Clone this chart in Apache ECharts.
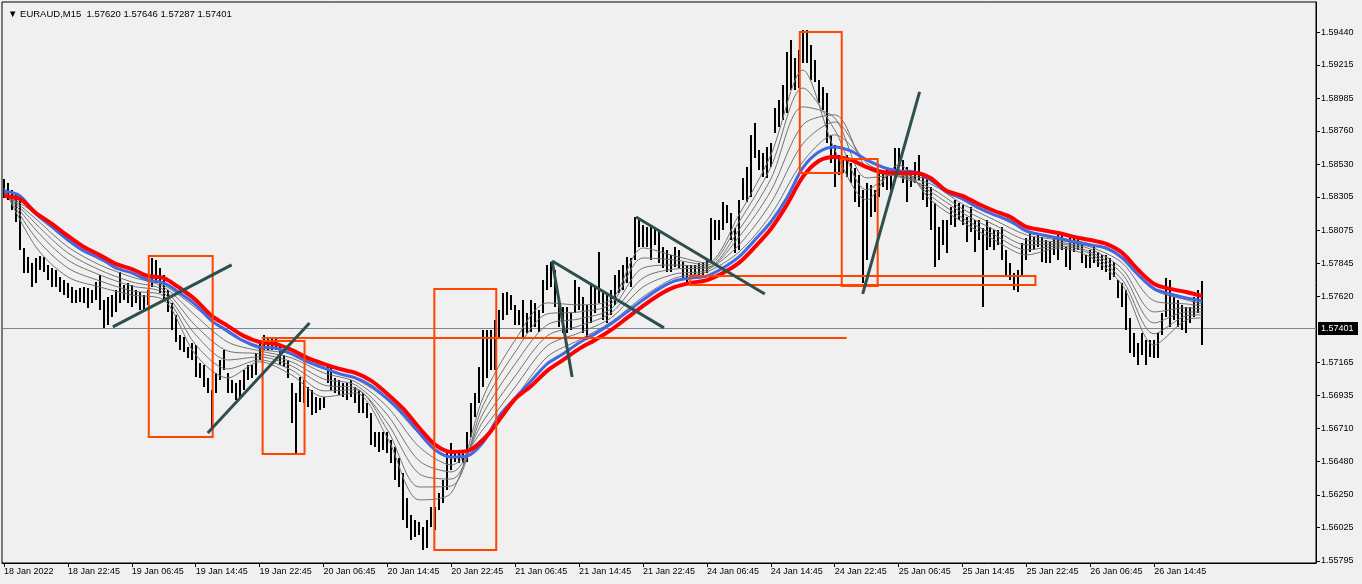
<!DOCTYPE html>
<html><head><meta charset="utf-8">
<script src="https://cdn.jsdelivr.net/npm/echarts@6/dist/echarts.min.js"></script>
<style>html,body{margin:0;padding:0;background:#f0f0f0}#c{width:1362px;height:584px}</style>
</head><body><div id="c"></div>
<script>
const symbolName = 'EURAUD,M15';
const lastOHLC = [1.57620, 1.57646, 1.57287, 1.57401];
const timeLabels = ['18 Jan 2022','18 Jan 22:45','19 Jan 06:45','19 Jan 14:45','19 Jan 22:45','20 Jan 06:45','20 Jan 14:45','20 Jan 22:45','21 Jan 06:45','21 Jan 14:45','21 Jan 22:45','24 Jan 06:45','24 Jan 14:45','24 Jan 22:45','25 Jan 06:45','25 Jan 14:45','25 Jan 22:45','26 Jan 06:45','26 Jan 14:45'];
const priceTicks = [1.59440,1.59215,1.58985,1.58760,1.58530,1.58305,1.58075,1.57845,1.57620,1.57165,1.56935,1.56710,1.56480,1.56250,1.56025,1.55795];

// bar highs / lows (30-minute steps)
const highs = [1.58429,1.58402,1.58354,1.58319,1.58284,1.57953,1.57891,1.57850,1.57884,1.57898,
1.57891,1.57836,1.57815,1.57801,1.57753,1.57732,1.57712,1.57684,1.57664,1.57677,
1.57684,1.57677,1.57664,1.57719,1.57767,1.57595,1.57616,1.57629,1.57664,1.57788,
1.57698,1.57712,1.57698,1.57664,1.57650,1.57629,1.57664,1.57884,1.57870,1.57815,
1.57767,1.57664,1.57574,1.57492,1.57354,1.57340,1.57271,1.57299,1.57285,1.57161,
1.57147,1.57057,1.56975,1.57092,1.57181,1.57250,1.57092,1.57043,1.57023,1.57043,
1.57112,1.57147,1.57147,1.57230,1.57299,1.57354,1.57333,1.57333,1.57333,1.57271,
1.57216,1.57181,1.57023,1.56954,1.57064,1.57043,1.56995,1.56975,1.56926,1.56919,
1.56926,1.57147,1.57126,1.57057,1.57043,1.57023,1.57023,1.57043,1.56995,1.56975,
1.56954,1.56884,1.56815,1.56684,1.56684,1.56684,1.56684,1.56629,1.56581,1.56505,
1.56402,1.56229,1.56113,1.56078,1.56064,1.56030,1.56078,1.56168,1.56168,1.56264,
1.56353,1.56540,1.56609,1.56560,1.56547,1.56560,1.56684,1.56884,1.56954,1.57133,
1.57388,1.57388,1.57388,1.57457,1.57526,1.57643,1.57650,1.57629,1.57561,1.57526,
1.57595,1.57505,1.57595,1.57574,1.57526,1.57732,1.57836,1.57857,1.57801,1.57595,
1.57547,1.57547,1.57505,1.57732,1.57684,1.57616,1.57561,1.57712,1.57684,1.57925,
1.57643,1.57643,1.57664,1.57767,1.57801,1.57836,1.57891,1.57884,1.58167,1.58146,
1.58112,1.58098,1.58098,1.58091,1.58063,1.57960,1.57939,1.57905,1.57960,1.57939,
1.57857,1.57836,1.57836,1.57836,1.57850,1.57857,1.57884,1.58160,1.58146,1.58146,
1.58270,1.58250,1.58194,1.58091,1.58284,1.58436,1.58511,1.58731,1.58815,1.58629,
1.58608,1.58650,1.58678,1.58919,1.58974,1.59077,1.59305,1.59387,1.59263,1.59318,
1.59456,1.59456,1.59353,1.59249,1.59111,1.59063,1.59022,1.58731,1.58663,1.58594,
1.58560,1.58594,1.58539,1.58505,1.58456,1.58354,1.58402,1.58388,1.58354,1.58491,
1.58491,1.58491,1.58456,1.58643,1.58643,1.58560,1.58511,1.58491,1.58547,1.58594,
1.58456,1.58443,1.58374,1.58263,1.58098,1.58146,1.58146,1.58236,1.58284,1.58263,
1.58250,1.58167,1.58236,1.58146,1.58146,1.58091,1.58146,1.58098,1.58077,1.58077,
1.58098,1.57939,1.57850,1.57781,1.57801,1.57987,1.58022,1.58056,1.58029,1.58043,
1.58029,1.58008,1.57994,1.58029,1.58043,1.58063,1.57960,1.58022,1.58043,1.58022,
1.57994,1.57905,1.57939,1.57960,1.57925,1.57905,1.57905,1.57884,1.57857,1.57732,
1.57712,1.57664,1.57471,1.57368,1.57299,1.57368,1.57319,1.57319,1.57319,1.57368,
1.57505,1.57746,1.57732,1.57616,1.57595,1.57561,1.57547,1.57547,1.57616,1.57664,
1.57726];
const lows = [1.58298,1.58284,1.58215,1.58132,1.57939,1.57781,1.57781,1.57684,1.57712,1.57801,
1.57788,1.57732,1.57684,1.57684,1.57650,1.57629,1.57608,1.57574,1.57574,1.57581,
1.57574,1.57540,1.57574,1.57595,1.57526,1.57402,1.57423,1.57478,1.57512,1.57574,
1.57595,1.57574,1.57547,1.57574,1.57526,1.57526,1.57561,1.57684,1.57712,1.57643,
1.57595,1.57512,1.57388,1.57305,1.57250,1.57236,1.57195,1.57181,1.57064,1.57057,
1.56995,1.56954,1.56712,1.56954,1.57043,1.57112,1.56954,1.56954,1.56905,1.56926,
1.56975,1.57043,1.57057,1.57078,1.57181,1.57250,1.57250,1.57250,1.57250,1.57147,
1.57133,1.57057,1.56746,1.56540,1.56891,1.56884,1.56857,1.56802,1.56815,1.56836,
1.56850,1.57023,1.56975,1.56954,1.56940,1.56926,1.56905,1.56926,1.56884,1.56815,
1.56815,1.56781,1.56595,1.56581,1.56547,1.56560,1.56540,1.56471,1.56353,1.56305,
1.56078,1.56023,1.55940,1.55961,1.55975,1.55871,1.55885,1.56030,1.56009,1.56147,
1.56194,1.56285,1.56422,1.56478,1.56471,1.56471,1.56478,1.56650,1.56788,1.56884,
1.56995,1.57057,1.57112,1.57112,1.57333,1.57457,1.57492,1.57526,1.57423,1.57423,
1.57340,1.57368,1.57374,1.57409,1.57374,1.57505,1.57664,1.57684,1.57547,1.57409,
1.57368,1.57368,1.57388,1.57505,1.57526,1.57368,1.57319,1.57436,1.57505,1.57574,
1.57457,1.57436,1.57492,1.57561,1.57643,1.57664,1.57712,1.57684,1.57870,1.57960,
1.57960,1.57960,1.57870,1.57974,1.57850,1.57815,1.57788,1.57788,1.57822,1.57815,
1.57732,1.57712,1.57746,1.57746,1.57753,1.57767,1.57781,1.57850,1.58008,1.58008,
1.58077,1.58125,1.58008,1.57919,1.57939,1.58284,1.58270,1.58305,1.58574,1.58491,
1.58443,1.58436,1.58511,1.58747,1.58788,1.58836,1.58884,1.59043,1.59043,1.59056,
1.59229,1.59229,1.59111,1.59098,1.58953,1.58905,1.58678,1.58539,1.58374,1.58457,
1.58471,1.58443,1.58402,1.58270,1.58236,1.57712,1.57870,1.58167,1.58201,1.58305,
1.58374,1.58354,1.58354,1.58456,1.58539,1.58402,1.58270,1.58374,1.58402,1.58422,
1.58284,1.58236,1.58077,1.57822,1.57870,1.57974,1.57919,1.58112,1.58098,1.58146,
1.58112,1.57994,1.58063,1.57925,1.58008,1.57547,1.57939,1.57960,1.57939,1.57974,
1.57870,1.57767,1.57732,1.57664,1.57650,1.57753,1.57870,1.57925,1.57939,1.57960,
1.57857,1.57850,1.57850,1.57905,1.57870,1.57939,1.57822,1.57801,1.57925,1.57939,
1.57850,1.57815,1.57815,1.57850,1.57822,1.57801,1.57788,1.57732,1.57753,1.57608,
1.57547,1.57388,1.57230,1.57202,1.57147,1.57216,1.57147,1.57202,1.57195,1.57195,
1.57354,1.57478,1.57409,1.57457,1.57409,1.57388,1.57368,1.57436,1.57478,1.57505,
1.57287];

// moving averages, read every 4th bar
const redMA = [1.58312,1.58291,1.58194,1.58119,1.58036,1.57960,1.57905,1.57843,1.57808,1.57760,
1.57746,1.57677,1.57595,1.57485,1.57416,1.57347,1.57305,1.57292,1.57250,1.57195,
1.57154,1.57119,1.57092,1.57037,1.56947,1.56843,1.56712,1.56595,1.56547,1.56554,
1.56629,1.56767,1.56912,1.57002,1.57106,1.57181,1.57257,1.57319,1.57388,1.57471,
1.57554,1.57629,1.57684,1.57712,1.57732,1.57781,1.57850,1.57960,1.58084,1.58250,
1.58443,1.58553,1.58581,1.58560,1.58511,1.58477,1.58470,1.58470,1.58436,1.58347,
1.58312,1.58256,1.58208,1.58167,1.58098,1.58077,1.58056,1.58029,1.58008,1.57981,
1.57919,1.57801,1.57705,1.57671,1.57650,1.57622];
const blueMA = [1.58347,1.58312,1.58187,1.58098,1.58008,1.57932,1.57884,1.57815,1.57781,1.57732,
1.57712,1.57643,1.57561,1.57450,1.57381,1.57312,1.57271,1.57264,1.57223,1.57168,
1.57126,1.57085,1.57057,1.57002,1.56912,1.56808,1.56677,1.56560,1.56512,1.56519,
1.56615,1.56795,1.56919,1.57037,1.57154,1.57223,1.57299,1.57361,1.57430,1.57512,
1.57595,1.57671,1.57726,1.57746,1.57760,1.57815,1.57891,1.58008,1.58132,1.58298,
1.58505,1.58615,1.58650,1.58622,1.58560,1.58511,1.58484,1.58477,1.58422,1.58340,
1.58292,1.58229,1.58181,1.58139,1.58070,1.58043,1.58022,1.57994,1.57974,1.57953,
1.57884,1.57767,1.57671,1.57636,1.57608,1.57588];
// gray ribbon, read every 8th bar (plus the last bar)
const gray1 = [1.58367,1.57960,1.57753,1.57684,1.57629,1.57595,1.57216,1.57057,1.57168,1.57078,1.56926,1.56954,1.56643,1.56216,1.56264,1.56926,1.57319,1.57574,1.57561,1.57595,1.57953,1.57898,1.57850,1.58181,1.58594,1.59180,1.58629,1.58284,1.58526,1.58284,1.58132,1.58008,1.57905,1.57953,1.57891,1.57698,1.57285,1.57457,1.57471];
const gray2 = [1.58360,1.58022,1.57815,1.57726,1.57657,1.57622,1.57285,1.57119,1.57181,1.57112,1.56968,1.56975,1.56698,1.56305,1.56312,1.56871,1.57236,1.57498,1.57512,1.57567,1.57884,1.57870,1.57836,1.58132,1.58512,1.59056,1.58767,1.58354,1.58491,1.58312,1.58160,1.58043,1.57939,1.57967,1.57912,1.57732,1.57361,1.57485,1.57492];
const gray3 = [1.58354,1.58077,1.57870,1.57767,1.57691,1.57643,1.57354,1.57181,1.57202,1.57140,1.57009,1.56988,1.56746,1.56395,1.56360,1.56815,1.57154,1.57423,1.57464,1.57533,1.57815,1.57836,1.57822,1.58077,1.58429,1.58926,1.58850,1.58436,1.58457,1.58340,1.58194,1.58077,1.57974,1.57981,1.57925,1.57774,1.57436,1.57512,1.57512];
const gray4 = [1.58347,1.58119,1.57919,1.57801,1.57719,1.57664,1.57416,1.57243,1.57223,1.57168,1.57050,1.57009,1.56802,1.56484,1.56409,1.56760,1.57071,1.57347,1.57416,1.57505,1.57746,1.57808,1.57815,1.58029,1.58347,1.58802,1.58871,1.58505,1.58443,1.58367,1.58222,1.58112,1.58008,1.57994,1.57946,1.57808,1.57512,1.57540,1.57533];
const gray5 = [1.58340,1.58153,1.57960,1.57836,1.57753,1.57684,1.57485,1.57305,1.57243,1.57195,1.57092,1.57030,1.56857,1.56581,1.56457,1.56705,1.56995,1.57278,1.57368,1.57471,1.57684,1.57774,1.57801,1.57974,1.58263,1.58671,1.58822,1.58539,1.58450,1.58395,1.58256,1.58146,1.58043,1.58008,1.57960,1.57850,1.57588,1.57567,1.57554];
const gray6 = [1.58333,1.58187,1.58001,1.57870,1.57781,1.57698,1.57540,1.57368,1.57257,1.57223,1.57126,1.57050,1.56905,1.56670,1.56505,1.56650,1.56919,1.57202,1.57319,1.57443,1.57616,1.57746,1.57788,1.57925,1.58181,1.58547,1.58733,1.58560,1.58463,1.58422,1.58284,1.58181,1.58077,1.58022,1.57981,1.57884,1.57664,1.57595,1.57567];

// drawn objects in data coordinates: [fromBar, toBar, topPrice, bottomPrice]
const boxes = [
  [36.25, 52.25, 1.57898, 1.56650],
  [64.75, 75.25, 1.57312, 1.56533],
  [107.75, 123.25, 1.57670, 1.55871],
  [199.25, 209.75, 1.59442, 1.58470],
  [209.75, 218.75, 1.58567, 1.57691],
  [171.75, 258.25, 1.57760, 1.57698]
];
const levelLines = [[64.5, 211, 1.57333]];
const trendLines = [
  [27.25, 1.57409, 57, 1.57836],
  [51, 1.56677, 76.5, 1.57436],
  [137.25, 1.57863, 142.25, 1.57064],
  [137.25, 1.57863, 165.25, 1.57402],
  [158.25, 1.58167, 190.5, 1.57636],
  [215, 1.57636, 229.25, 1.59029]
];

const N_CATS = 329;
const cats = [];
for (let i = 0; i < N_CATS; i++) cats.push(i % 16 === 0 && i / 16 < timeLabels.length ? timeLabels[i / 16] : 'b' + i);
const isLabelIdx = (i) => i % 16 === 0 && i / 16 < timeLabels.length;

const idx4 = highs.map((_, i) => i).filter(i => i % 4 === 0);
const idx8 = highs.map((_, i) => i).filter(i => i % 8 === 0).concat([highs.length - 1]);
const FONT = 'Liberation Sans, Arial, sans-serif';

function maSeries(idx, vals, color, width, z) {
  return { type: 'line', xAxisIndex: 1, yAxisIndex: 0, data: idx.map((x, k) => [x, vals[k]]),
    showSymbol: false, smooth: 0.3, silent: true, z: z,
    lineStyle: { color: color, width: width } };
}

const chart = echarts.init(document.getElementById('c'), null, { renderer: 'canvas' });
chart.setOption({
  animation: false,
  backgroundColor: '#f0f0f0',
  title: {
    text: '\u25BC ' + symbolName + '  ' + lastOHLC.map(v => v.toFixed(5)).join(' '),
    left: 3, top: 4,
    textStyle: { fontSize: 9.5, fontWeight: 'normal', color: '#000', fontFamily: FONT }
  },
  grid: { left: 2, top: 2, width: 1314, height: 561, show: true, borderColor: '#000', borderWidth: 1, backgroundColor: 'transparent' },
  xAxis: [
    { type: 'category', data: cats, boundaryGap: true, position: 'bottom',
      axisLine: { show: true, onZero: false, lineStyle: { color: '#000' } },
      axisTick: { show: true, alignWithLabel: true, length: 4, interval: (i) => isLabelIdx(i), lineStyle: { color: '#000' } },
      axisLabel: { interval: (i) => isLabelIdx(i), align: 'left', margin: 4, color: '#000', fontSize: 9, fontFamily: FONT },
      splitLine: { show: false } },
    { type: 'value', min: -0.5, max: N_CATS - 0.5, show: false, axisLine: { onZero: false } }
  ],
  yAxis: {
    type: 'value', position: 'right', min: 1.55781, max: 1.59649,
    splitLine: { show: false }, axisLine: { show: true, onZero: false, lineStyle: { color: '#000' } },
    axisTick: { show: true, inside: false, length: 4, customValues: priceTicks, lineStyle: { color: '#000' } },
    axisLabel: { customValues: priceTicks, formatter: (v) => v.toFixed(5), color: '#000', fontSize: 9, fontFamily: FONT, margin: 5 }
  },
  series: [
    { type: 'custom', xAxisIndex: 0, yAxisIndex: 0, z: 2, silent: true,
      data: highs.map((h, i) => [i, lows[i], h]),
      encode: { x: 0, y: [1, 2] },
      renderItem: function (params, api) {
        const i = api.value(0);
        const hi = api.coord([i, api.value(2)]);
        const lo = api.coord([i, api.value(1)]);
        const x = Math.round(hi[0]) - 1;
        const y = Math.round(hi[1]);
        return { type: 'rect', shape: { x: x, y: y, width: 2, height: Math.max(1, Math.round(lo[1]) - y) }, style: { fill: '#000' } };
      }
    },
    { type: 'custom', xAxisIndex: 1, yAxisIndex: 0, z: 1, silent: true, clip: false,
      data: [[-0.5, N_CATS - 0.5, lastOHLC[3]]],
      renderItem: function (params, api) {
        const a = api.coord([api.value(0), api.value(2)]);
        const b = api.coord([api.value(1), api.value(2)]);
        const y = Math.round(a[1]) + 0.5;
        return { type: 'group', children: [
          { type: 'line', shape: { x1: a[0], y1: y, x2: b[0], y2: y }, style: { stroke: '#778899', lineWidth: 1 } },
          { type: 'rect', z2: 10, shape: { x: b[0] + 2, y: y - 6.5, width: 40, height: 13 }, style: { fill: '#000' } },
          { type: 'text', z2: 11, style: { text: lastOHLC[3].toFixed(5), x: b[0] + 5, y: y, verticalAlign: 'middle', align: 'left',
              fill: '#fff', fontSize: 9, fontFamily: FONT } }
        ] };
      }
    },
    maSeries(idx8, gray1, '#737373', 1, 3),
    maSeries(idx8, gray2, '#737373', 1, 3),
    maSeries(idx8, gray3, '#737373', 1, 3),
    maSeries(idx8, gray4, '#737373', 1, 3),
    maSeries(idx8, gray5, '#737373', 1, 3),
    maSeries(idx8, gray6, '#737373', 1, 3),
    maSeries(idx4, blueMA, '#4169e1', 3, 4),
    maSeries(idx4, redMA, '#ff0000', 4, 5),
    { type: 'custom', xAxisIndex: 1, yAxisIndex: 0, z: 6, silent: true, data: boxes,
      renderItem: function (params, api) {
        const a = api.coord([api.value(0), api.value(2)]);
        const b = api.coord([api.value(1), api.value(3)]);
        return { type: 'rect', shape: { x: a[0], y: a[1], width: b[0] - a[0], height: b[1] - a[1] },
          style: { fill: 'none', stroke: '#ff4500', lineWidth: 2 } };
      } },
    { type: 'custom', xAxisIndex: 1, yAxisIndex: 0, z: 6, silent: true, data: levelLines,
      renderItem: function (params, api) {
        const a = api.coord([api.value(0), api.value(2)]);
        const b = api.coord([api.value(1), api.value(2)]);
        return { type: 'line', shape: { x1: a[0], y1: a[1], x2: b[0], y2: b[1] }, style: { stroke: '#ff4500', lineWidth: 2 } };
      } },
    { type: 'custom', xAxisIndex: 1, yAxisIndex: 0, z: 7, silent: true, data: trendLines,
      renderItem: function (params, api) {
        const a = api.coord([api.value(0), api.value(1)]);
        const b = api.coord([api.value(2), api.value(3)]);
        return { type: 'line', shape: { x1: a[0], y1: a[1], x2: b[0], y2: b[1] }, style: { stroke: '#2f4f4f', lineWidth: 3 } };
      } }
  ]
});
</script>
</body></html>
